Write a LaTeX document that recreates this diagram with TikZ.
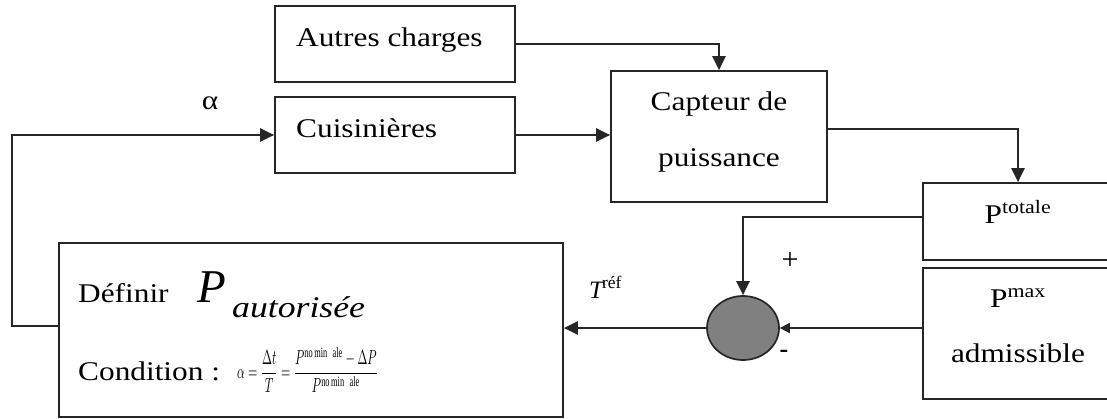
\documentclass[tikz,border=0pt]{standalone}
\usepackage{fontspec}
\setmainfont{Liberation Serif}
\usepackage{graphicx}
\usetikzlibrary{arrows.meta,calc,shapes.geometric}
\newcommand{\wt}[1]{\scalebox{1.16}[1]{#1}}
\begin{document}
\begin{tikzpicture}[x=1pt,y=-1pt,
  box/.style={draw=black!85,line width=1.7pt,inner sep=0pt,rectangle},
  arr/.style={draw=black!85,line width=2.2pt,-{Triangle[length=14pt,width=13pt]}},
  lbl/.style={inner sep=0pt,font=\fontsize{27}{30}\selectfont,anchor=base west},
  clbl/.style={lbl,anchor=base}
  ]
\useasboundingbox (0,0) rectangle (1107,418);
\clip (0,0) rectangle (1107,418);
% boxes
\node[box,minimum width=240pt,minimum height=76pt] (autres) at (395,44) {};
\node[box,minimum width=240pt,minimum height=76pt] (cuis) at (395,135) {};
\node[box,minimum width=216pt,minimum height=131pt] (capt) at (719,136.5) {};
\node[box,minimum width=190pt,minimum height=77pt] (ptot) at (1018,221.5) {};
\node[box,minimum width=190pt,minimum height=131pt] (pmax) at (1018,333.5) {};
\node[box,minimum width=504pt,minimum height=174pt] (def) at (311,330) {};
\node[ellipse,draw=black!85,line width=1.7pt,fill=black!50,minimum width=72pt,minimum height=64pt,inner sep=0pt] (sum) at (743,328) {};
% texts
\node[lbl] (tautres) at (296,46) {\wt{Autres charges}};
\node[lbl] (tcuis) at (296,137) {\wt{Cuisinières}};
\node[clbl] (talpha) at (210,109) {\wt{α}};
\node[clbl] (tcapt1) at (719,110) {\wt{Capteur de}};
\node[clbl] (tcapt2) at (719,166) {\wt{puissance}};
\node[clbl] (tptot) at (1018,223) {\wt{P\textsuperscript{totale}}};
\node[clbl] (tpmax) at (1018,307) {\wt{P\textsuperscript{max}}};
\node[clbl] (tadm) at (1018,362) {\wt{admissible}};
\node[clbl,font=\fontsize{30}{32}\selectfont] (tplus) at (790,269) {+};
\node[clbl,font=\fontsize{26}{28}\selectfont\bfseries] (tminus) at (784,357) {-};
\node[lbl] (tdef) at (78,302) {\wt{Définir}};
\node[lbl,font=\fontsize{47}{50}\selectfont\itshape] (tP) at (197,302) {P};
\node[lbl,font=\fontsize{30}{32}\selectfont\itshape] (taut) at (232,317) {\scalebox{1.19}[1]{autorisée}};
\node[lbl] (tcond) at (78,380) {\wt{Condition :}};
\node[inner sep=0pt,anchor=west] (tform) at (237,370) {\resizebox{141pt}{31pt}{$\displaystyle \alpha=\frac{\Delta t}{T}=\frac{P^{\mathrm{no\,min\;\;ale}}-\Delta P}{P^{\mathrm{no\,min\;\;ale}}}$}};
\node[lbl,font=\fontsize{25}{27}\selectfont\itshape] (tref) at (589,298) {T\kern-1pt\textsuperscript{\upshape réf}};
% connectors
\draw[arr] (autres.east) -| (capt.north);
\draw[arr] (cuis.east) -- (cuis.east -| capt.west);
\draw[arr] ($(capt.east)+(0,-7.5)$) -| (ptot.north);
\draw[arr] ($(ptot.west)+(0,-4.5)$) -| (sum.north);
\draw[arr,-{Triangle[length=10pt,width=10pt]}] (pmax.west |- sum.east) -- (sum.east);
\draw[arr] (sum.west) -- (sum.west -| def.east);
\coordinate (fb) at (12,326);
\draw[arr] ($(def.west)+(0,-4)$) -- (fb) |- (cuis.west);
\end{tikzpicture}
\end{document}
